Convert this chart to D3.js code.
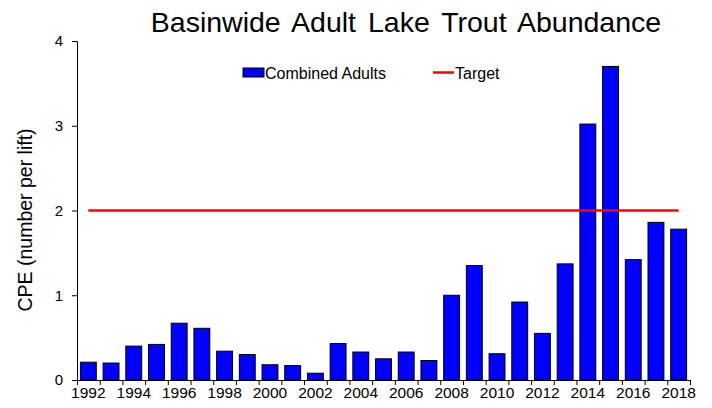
<!DOCTYPE html>
<html>
<head>
<meta charset="utf-8">
<script src="https://cdn.jsdelivr.net/npm/d3@7"></script>
<style>
  body { margin: 0; background: #fff; }
  text { font-family: "Liberation Sans", Arial, sans-serif; }
</style>
</head>
<body>
<div id="chart"></div>
<script>
// data
const years = d3.range(1992, 2019).map(String);
const adults = [0.21, 0.20, 0.40, 0.42, 0.67, 0.61, 0.34, 0.30, 0.18, 0.17, 0.08, 0.43, 0.33, 0.25,
  0.33, 0.23, 1.00, 1.35, 0.31, 0.92, 0.55, 1.37, 3.02, 3.70, 1.42, 1.86, 1.78];
const target = 2;
const yTicks = [0, 1, 2, 3, 4];
const xLabels = years.filter((d, i) => i % 2 === 0);

const width = 712, height = 408;
const svg = d3.select("#chart").append("svg")
    .attr("width", width)
    .attr("height", height);

const x = d3.scaleBand().domain(years).range([77, 690]).paddingInner(0.3).paddingOuter(0.15);
const y = d3.scaleLinear().domain([0, 4]).range([380, 41]);

// title
svg.append("text")
    .attr("x", 406).attr("y", 32)
    .attr("text-anchor", "middle")
    .style("font-size", "28.5px")
    .style("word-spacing", "4px")
    .text("Basinwide Adult Lake Trout Abundance");

// y axis
const yAxis = svg.append("g")
    .attr("transform", "translate(77,0)")
    .call(d3.axisLeft(y).tickValues(yTicks).tickFormat(d3.format("d")).tickSize(5).tickPadding(9));
yAxis.selectAll("text").style("font-size", "15px").style("font-family", "Liberation Sans, Arial, sans-serif");

svg.append("text")
    .attr("transform", "translate(32,220) rotate(-90)")
    .attr("text-anchor", "middle")
    .style("font-size", "19.5px")
    .text("CPE (number per lift)");

// bars
svg.selectAll("rect.bar")
   .data(adults)
   .enter()
   .append("rect")
   .attr("class", "bar")
   .attr("x", (d, i) => x(years[i]))
   .attr("y", d => y(d))
   .attr("width", x.bandwidth())
   .attr("height", d => y(0) - y(d))
   .attr("fill", "#0000ff")
   .attr("stroke", "#000")
   .attr("stroke-width", 1);

// x axis: labels on even years, ticks between categories
const xAxis = svg.append("g")
    .attr("transform", "translate(0,380)")
    .call(d3.axisBottom(x).tickValues(xLabels).tickSize(0).tickPadding(7));
xAxis.selectAll("text").style("font-size", "15.5px").style("font-family", "Liberation Sans, Arial, sans-serif");
xAxis.select(".domain").attr("d", "M77,0.5H690");

const step = x.step();
xAxis.selectAll("line.sep")
    .data(d3.range(years.length + 1))
    .enter()
    .append("line")
    .attr("class", "sep")
    .attr("x1", i => 77 + i * step + 0.5)
    .attr("x2", i => 77 + i * step + 0.5)
    .attr("y1", 0)
    .attr("y2", 5)
    .attr("stroke", "#000");

// target line
svg.append("line")
    .attr("x1", x(years[0]) + x.bandwidth() / 2)
    .attr("x2", x(years[years.length - 1]) + x.bandwidth() / 2)
    .attr("y1", y(target))
    .attr("y2", y(target))
    .attr("stroke", "#ff0000")
    .attr("stroke-width", 2.5);

// legend
const legend = svg.append("g");
legend.append("rect")
    .attr("x", 243).attr("y", 68).attr("width", 21).attr("height", 9)
    .attr("fill", "#0000ff").attr("stroke", "#000");
legend.append("text")
    .attr("x", 265).attr("y", 79)
    .style("font-size", "16px")
    .text("Combined Adults");
legend.append("line")
    .attr("x1", 433).attr("x2", 454).attr("y1", 72.5).attr("y2", 72.5)
    .attr("stroke", "#ff0000").attr("stroke-width", 2.5);
legend.append("text")
    .attr("x", 455).attr("y", 79)
    .style("font-size", "16px")
    .text("Target");
</script>
</body>
</html>
